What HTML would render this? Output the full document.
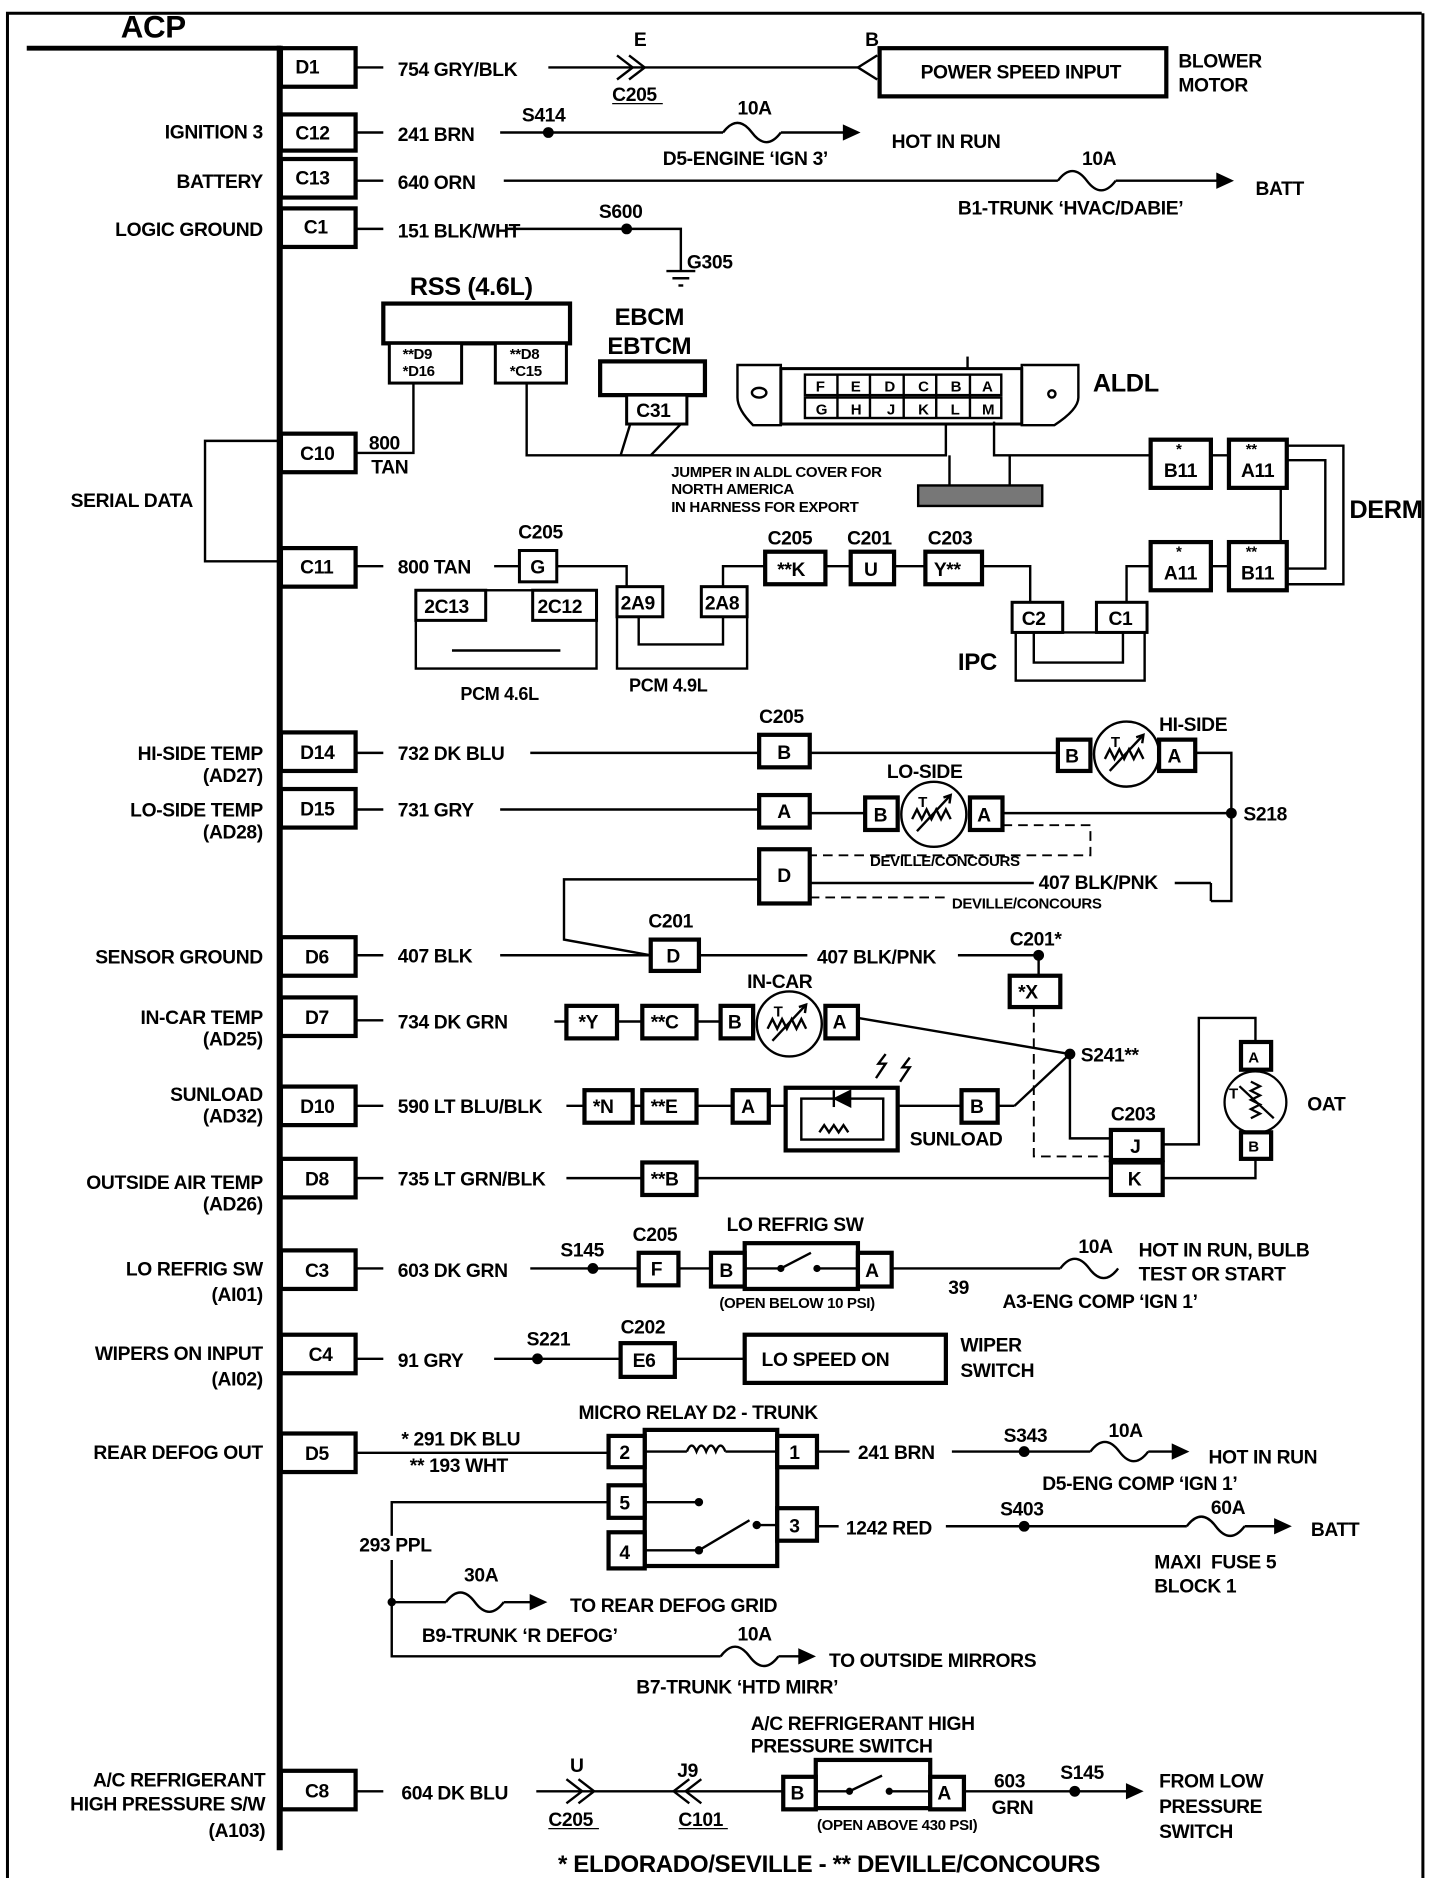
<!DOCTYPE html>
<html><head><meta charset="utf-8"><style>
html,body{margin:0;padding:0;background:#fff}
svg{display:block}
text{font-family:"Liberation Sans",sans-serif;font-size:16px;font-weight:bold;fill:#000;letter-spacing:-0.3px}
.s{font-size:12.5px}
.b{font-weight:bold}
.r{text-anchor:end}
.c{text-anchor:middle}
line,polyline,path,rect,circle,ellipse{stroke:#000;fill:none}
.w{stroke-width:2}
.bx{stroke-width:3.5;fill:#fff}
.bt{stroke-width:2.5;fill:#fff}
.d{stroke-dasharray:8 5;stroke-width:1.6}
circle.dot{fill:#000;stroke:#000}
</style></head><body>
<svg width="1440" height="1878" viewBox="0 0 1195 1559" xmlns="http://www.w3.org/2000/svg">
<polyline points="6,1559 6,11 1180,11" class="w" style="stroke-width:2.5"/>
<line x1="1181" y1="11" x2="1181" y2="1559" style="stroke-width:2.5"/>
<text x="100" y="31" class="b" style="font-size:26px">ACP</text>
<line x1="22" y1="40" x2="233" y2="40" style="stroke-width:4"/>
<line x1="232" y1="38" x2="232" y2="1536" style="stroke-width:5"/>

<g>
<rect x="233" y="40" width="62" height="32" class="bx"/><text x="245" y="61">D1</text>
<rect x="233" y="95" width="62" height="30" class="bx"/><text x="245" y="116">C12</text>
<rect x="233" y="132" width="62" height="32" class="bx"/><text x="245" y="153">C13</text>
<rect x="233" y="173" width="62" height="32" class="bx"/><text x="252" y="194">C1</text>
<rect x="233" y="360" width="62" height="32" class="bx"/><text x="249" y="382">C10</text>
<rect x="233" y="455" width="62" height="32" class="bx"/><text x="249" y="476">C11</text>
<rect x="233" y="608" width="62" height="32" class="bx"/><text x="249" y="630">D14</text>
<rect x="233" y="655" width="62" height="32" class="bx"/><text x="249" y="677">D15</text>
<rect x="233" y="778" width="62" height="32" class="bx"/><text x="253" y="800">D6</text>
<rect x="233" y="828" width="62" height="32" class="bx"/><text x="253" y="850">D7</text>
<rect x="233" y="902" width="62" height="32" class="bx"/><text x="249" y="924">D10</text>
<rect x="233" y="962" width="62" height="32" class="bx"/><text x="253" y="984">D8</text>
<rect x="233" y="1038" width="62" height="32" class="bx"/><text x="253" y="1060">C3</text>
<rect x="233" y="1108" width="62" height="32" class="bx"/><text x="256" y="1130">C4</text>
<rect x="233" y="1190" width="62" height="32" class="bx"/><text x="253" y="1212">D5</text>
<rect x="233" y="1470" width="62" height="32" class="bx"/><text x="253" y="1492">C8</text>
</g>

<g>
<text x="218" y="115" class="r">IGNITION 3</text>
<text x="218" y="156" class="r">BATTERY</text>
<text x="218" y="196" class="r">LOGIC GROUND</text>
<text x="160" y="421" class="r">SERIAL DATA</text>
<text x="218" y="631" class="r">HI-SIDE TEMP</text>
<text x="218" y="649" class="r">(AD27)</text>
<text x="218" y="678" class="r">LO-SIDE TEMP</text>
<text x="218" y="696" class="r">(AD28)</text>
<text x="218" y="800" class="r">SENSOR GROUND</text>
<text x="218" y="850" class="r">IN-CAR TEMP</text>
<text x="218" y="868" class="r">(AD25)</text>
<text x="218" y="914" class="r">SUNLOAD</text>
<text x="218" y="932" class="r">(AD32)</text>
<text x="218" y="987" class="r">OUTSIDE AIR TEMP</text>
<text x="218" y="1005" class="r">(AD26)</text>
<text x="218" y="1059" class="r">LO REFRIG SW</text>
<text x="218" y="1080" class="r">(AI01)</text>
<text x="218" y="1129" class="r">WIPERS ON INPUT</text>
<text x="218" y="1150" class="r">(AI02)</text>
<text x="218" y="1211" class="r">REAR DEFOG OUT</text>
<text x="220" y="1483" class="r">A/C REFRIGERANT</text>
<text x="220" y="1503" class="r">HIGH PRESSURE S/W</text>
<text x="220" y="1525" class="r">(A103)</text>
</g>

<g class="w">
<line x1="295" y1="56" x2="318" y2="56"/><line x1="295" y1="110" x2="318" y2="110"/>
<line x1="295" y1="150" x2="318" y2="150"/><line x1="295" y1="190" x2="318" y2="190"/>
<line x1="295" y1="470" x2="318" y2="470"/><line x1="295" y1="625" x2="318" y2="625"/>
<line x1="295" y1="672" x2="318" y2="672"/><line x1="295" y1="793" x2="318" y2="793"/>
<line x1="295" y1="847" x2="318" y2="847"/><line x1="295" y1="918" x2="318" y2="918"/>
<line x1="295" y1="978" x2="318" y2="978"/><line x1="295" y1="1053" x2="318" y2="1053"/>
<line x1="295" y1="1128" x2="318" y2="1128"/><line x1="295" y1="1487" x2="318" y2="1487"/>
</g>

<!-- D1 -->
<text x="330" y="63">754 GRY/BLK</text>
<line x1="455" y1="56" x2="712" y2="56" class="w"/>
<polyline points="512,46 525,56 512,66" class="w"/><polyline points="522,46 535,56 522,66" class="w"/>
<text x="526" y="38">E</text><text x="508" y="84">C205</text><line x1="508" y1="86" x2="550" y2="86"/>
<polyline points="728,46 712,56 728,66" class="w"/><text x="718" y="38">B</text>
<rect x="730" y="40" width="238" height="40" class="bx"/>
<text x="764" y="65">POWER SPEED INPUT</text>
<text x="978" y="56">BLOWER</text><text x="978" y="76">MOTOR</text>

<!-- C12 -->
<text x="330" y="117">241 BRN</text>
<line x1="415" y1="110" x2="600" y2="110" class="w"/><circle cx="455" cy="110" r="4" class="dot"/>
<text x="433" y="101">S414</text>
<path d="M600,110 q12,-16 24,0 q12,16 24,0" class="w"/><text x="612" y="95">10A</text>
<line x1="648" y1="110" x2="700" y2="110" class="w"/><polygon points="700,104 713,110 700,116" fill="#000" stroke="#000"/>
<text x="740" y="123">HOT IN RUN</text><text x="550" y="137">D5-ENGINE ‘IGN 3’</text>

<!-- C13 -->
<text x="330" y="157">640 ORN</text>
<line x1="418" y1="150" x2="878" y2="150" class="w"/>
<path d="M878,150 q12,-16 24,0 q12,16 24,0" class="w"/><text x="898" y="137">10A</text>
<line x1="926" y1="150" x2="1010" y2="150" class="w"/><polygon points="1010,144 1023,150 1010,156" fill="#000" stroke="#000"/>
<text x="1042" y="162">BATT</text><text x="795" y="178">B1-TRUNK ‘HVAC/DABIE’</text>

<!-- C1 -->
<text x="330" y="197">151 BLK/WHT</text>
<polyline points="420,190 565,190 565,225" class="w"/><circle cx="520" cy="190" r="4" class="dot"/>
<text x="497" y="181">S600</text><text x="570" y="223">G305</text>
<line x1="553" y1="225" x2="577" y2="225" class="w"/><line x1="558" y1="231" x2="572" y2="231" class="w"/><line x1="563" y1="237" x2="567" y2="237" class="w"/>

<!-- RSS -->
<text x="340" y="245" class="b" style="font-size:21px">RSS (4.6L)</text>
<rect x="318" y="252" width="155" height="33" class="bx"/>
<rect x="323" y="285" width="60" height="33" class="bt"/><text x="334" y="298" class="s">**D9</text><text x="334" y="312" class="s">*D16</text>
<rect x="411" y="285" width="59" height="33" class="bt"/><text x="423" y="298" class="s">**D8</text><text x="423" y="312" class="s">*C15</text>
<polyline points="295,376 343,376 343,318" class="w"/>
<text x="306" y="373">800</text><text x="308" y="393">TAN</text>
<polyline points="437,318 437,378 785,378 785,350" class="w"/>
<text x="510" y="270" class="b" style="font-size:20px">EBCM</text>
<text x="504" y="294" class="b" style="font-size:20px">EBTCM</text>
<rect x="498" y="300" width="87" height="28" class="bx"/>
<rect x="520" y="328" width="50" height="24" class="bt"/><text x="528" y="346">C31</text>
<polyline points="523,352 515,378" class="w"/><polyline points="565,352 540,378" class="w"/>

<!-- ALDL -->
<path d="M612,303 L648,303 L648,353 L625,353 Q612,340 612,330 Z" class="w"/>
<path d="M895,303 L848,303 L848,353 L875,353 Q895,340 895,330 Z" class="w"/>
<ellipse cx="630" cy="326" rx="6" ry="4" class="w"/><circle cx="873" cy="327" r="3" class="w"/>
<rect x="648" y="306" width="200" height="46" class="bt"/>
<line x1="803" y1="296" x2="803" y2="306" class="w"/>
<rect x="668" y="311" width="163" height="17" class="w"/><rect x="668" y="330" width="163" height="17" class="w"/>
<g><text x="677" y="325" class="s">F</text><text x="706" y="325" class="s">E</text><text x="734" y="325" class="s">D</text><text x="762" y="325" class="s">C</text><text x="789" y="325" class="s">B</text><text x="815" y="325" class="s">A</text>
<text x="677" y="344" class="s">G</text><text x="706" y="344" class="s">H</text><text x="736" y="344" class="s">J</text><text x="762" y="344" class="s">K</text><text x="789" y="344" class="s">L</text><text x="815" y="344" class="s">M</text></g>
<g class="w"><line x1="695" y1="311" x2="695" y2="347"/><line x1="722" y1="311" x2="722" y2="347"/><line x1="750" y1="311" x2="750" y2="347"/><line x1="777" y1="311" x2="777" y2="347"/><line x1="805" y1="311" x2="805" y2="347"/></g>
<text x="907" y="325" class="b" style="font-size:21px">ALDL</text>
<polyline points="825,350 825,378 955,378" class="w"/>
<line x1="788" y1="378" x2="788" y2="403" class="w"/><line x1="838" y1="378" x2="838" y2="403" class="w"/>
<rect x="762" y="403" width="103" height="17" style="fill:#777;stroke:#000;stroke-width:2"/>
<text x="557" y="396" class="s">JUMPER IN ALDL COVER FOR</text>
<text x="557" y="410" class="s">NORTH AMERICA</text>
<text x="557" y="425" class="s">IN HARNESS FOR EXPORT</text>

<!-- DERM -->
<rect x="955" y="365" width="50" height="40" class="bx"/><text x="976" y="377" class="s">*</text><text x="966" y="396">B11</text>
<rect x="1020" y="365" width="48" height="40" class="bx"/><text x="1034" y="377" class="s">**</text><text x="1030" y="396">A11</text>
<rect x="955" y="450" width="50" height="40" class="bx"/><text x="976" y="462" class="s">*</text><text x="966" y="481">A11</text>
<rect x="1020" y="450" width="48" height="40" class="bx"/><text x="1034" y="462" class="s">**</text><text x="1030" y="481">B11</text>
<line x1="1005" y1="378" x2="1020" y2="378" class="w"/><line x1="1005" y1="470" x2="1020" y2="470" class="w"/>
<polyline points="1068,370 1115,370 1115,485 1068,485" class="w"/>
<polyline points="1068,382 1100,382 1100,472 1068,472" class="w"/>
<line x1="1063" y1="405" x2="1063" y2="450" class="w"/>
<text x="1120" y="430" class="b" style="font-size:21px">DERM</text>

<polyline points="233,366 170,366 170,466 233,466" class="w"/>

<!-- C11 row -->
<text x="330" y="476">800 TAN</text>
<line x1="410" y1="470" x2="430" y2="470" class="w"/>
<text x="430" y="447">C205</text>
<rect x="431" y="457" width="31" height="26" class="bt"/><text x="440" y="476">G</text>
<polyline points="462,470 520,470 520,487" class="w"/>
<rect x="345" y="490" width="150" height="65" class="w"/>
<rect x="345" y="490" width="58" height="25" class="bt"/><text x="352" y="509">2C13</text>
<rect x="442" y="490" width="53" height="25" class="bt"/><text x="446" y="509">2C12</text>
<line x1="375" y1="540" x2="465" y2="540" class="w"/>
<text x="382" y="581" class="b" style="font-size:15px">PCM 4.6L</text>
<polyline points="512,510 512,555 620,555 620,510" class="w"/>
<rect x="512" y="487" width="38" height="25" class="bt"/><text x="515" y="506">2A9</text>
<rect x="582" y="487" width="38" height="25" class="bt"/><text x="585" y="506">2A8</text>
<polyline points="530,512 530,535 600,535 600,512" class="w"/>
<text x="522" y="574" class="b" style="font-size:15px">PCM 4.9L</text>
<polyline points="600,487 600,470 635,470" class="w"/>
<text x="637" y="452">C205</text><rect x="635" y="458" width="50" height="27" class="bx"/><text x="645" y="478">**K</text>
<line x1="685" y1="470" x2="706" y2="470" class="w"/>
<text x="703" y="452">C201</text><rect x="706" y="458" width="36" height="27" class="bx"/><text x="717" y="478">U</text>
<line x1="742" y1="470" x2="768" y2="470" class="w"/>
<text x="770" y="452">C203</text><rect x="768" y="458" width="47" height="27" class="bx"/><text x="775" y="478">Y**</text>
<polyline points="815,470 855,470 855,500" class="w"/>
<rect x="843" y="525" width="107" height="40" class="w"/>
<polyline points="858,525 858,550 932,550 932,525" class="w"/>
<rect x="840" y="500" width="42" height="25" class="bt"/><text x="848" y="519">C2</text>
<rect x="910" y="500" width="42" height="25" class="bt"/><text x="920" y="519">C1</text>
<polyline points="935,500 935,470 955,470" class="w"/>
<text x="795" y="556" class="b" style="font-size:20px">IPC</text>

<defs>
<g id="th">
<circle cx="0" cy="0" r="27" class="w" style="fill:#fff"/>
<path d="M-18,4 l4,-8 l4,8 l4,-8 l4,8 l4,-8 l4,8 l4,-8 l4,8" class="w"/>
<line x1="-14" y1="14" x2="14" y2="-16" class="w"/>
<polyline points="8,-14 14,-16 13,-9" class="w"/>
<text x="-13" y="-6" class="s">T</text>
</g>
</defs>

<!-- HI-SIDE -->
<text x="330" y="631">732 DK BLU</text>
<line x1="440" y1="625" x2="630" y2="625" class="w"/>
<text x="630" y="600">C205</text><rect x="630" y="610" width="42" height="27" class="bx"/><text x="645" y="630">B</text>
<line x1="672" y1="625" x2="878" y2="625" class="w"/>
<rect x="878" y="614" width="27" height="26" class="bx"/><text x="884" y="633">B</text>
<use href="#th" x="935" y="626"/>
<rect x="962" y="614" width="30" height="26" class="bx"/><text x="969" y="633">A</text>
<text x="962" y="607">HI-SIDE</text>
<polyline points="992,625 1022,625 1022,748 1005,748" class="w"/>
<circle cx="1022" cy="675" r="4" class="dot"/><text x="1032" y="681">S218</text>

<!-- LO-SIDE -->
<text x="330" y="678">731 GRY</text>
<line x1="415" y1="672" x2="630" y2="672" class="w"/>
<rect x="630" y="660" width="42" height="27" class="bx"/><text x="645" y="679">A</text>
<line x1="672" y1="675" x2="718" y2="675" class="w"/>
<rect x="718" y="662" width="27" height="27" class="bx"/><text x="725" y="682">B</text>
<use href="#th" x="775" y="676"/>
<rect x="805" y="662" width="27" height="27" class="bx"/><text x="811" y="682">A</text>
<text x="736" y="646">LO-SIDE</text>
<line x1="832" y1="675" x2="1022" y2="675" class="w"/>
<polyline points="832,685 905,685 905,710 672,710" class="d"/>
<text x="722" y="719" class="s">DEVILLE/CONCOURS</text>
<rect x="630" y="705" width="42" height="45" class="bx"/><text x="645" y="732">D</text>
<line x1="672" y1="733" x2="858" y2="733" class="w"/>
<line x1="975" y1="733" x2="1005" y2="733" class="w"/>
<line x1="1005" y1="733" x2="1005" y2="748" class="w"/>
<line x1="672" y1="745" x2="785" y2="745" class="d"/>
<text x="862" y="738">407 BLK/PNK</text>
<text x="790" y="754" class="s">DEVILLE/CONCOURS</text>
<polyline points="630,730 468,730 468,780 540,793" class="w"/>

<!-- sensor ground -->
<text x="330" y="799">407 BLK</text>
<line x1="415" y1="793" x2="540" y2="793" class="w"/>
<text x="538" y="770">C201</text><rect x="540" y="780" width="40" height="26" class="bx"/><text x="553" y="799">D</text>
<line x1="580" y1="793" x2="670" y2="793" class="w"/>
<line x1="795" y1="793" x2="862" y2="793" class="w"/>
<text x="678" y="800">407 BLK/PNK</text>
<circle cx="862" cy="793" r="4" class="dot"/><text x="838" y="785">C201*</text>
<line x1="862" y1="793" x2="862" y2="810" class="w"/>
<rect x="838" y="810" width="42" height="26" class="bx"/><text x="845" y="829">*X</text>
<polyline points="858,836 858,960 922,960" class="d"/>

<!-- IN-CAR -->
<text x="330" y="854">734 DK GRN</text>
<line x1="460" y1="848" x2="470" y2="848" class="w"/>
<rect x="470" y="835" width="42" height="27" class="bx"/><text x="480" y="854">*Y</text>
<line x1="512" y1="848" x2="533" y2="848" class="w"/>
<rect x="533" y="835" width="45" height="27" class="bx"/><text x="540" y="854">**C</text>
<line x1="578" y1="848" x2="598" y2="848" class="w"/>
<rect x="598" y="835" width="27" height="27" class="bx"/><text x="604" y="854">B</text>
<use href="#th" x="655" y="850"/>
<rect x="685" y="835" width="27" height="27" class="bx"/><text x="691" y="854">A</text>
<text x="620" y="820">IN-CAR</text>
<line x1="712" y1="845" x2="888" y2="875" class="w"/>
<circle cx="888" cy="875" r="4" class="dot"/><text x="897" y="881">S241**</text>
<polyline points="888,875 888,945 922,945" class="w"/>
<line x1="842" y1="918" x2="888" y2="875" class="w"/>

<!-- SUNLOAD -->
<text x="330" y="924">590 LT BLU/BLK</text>
<line x1="470" y1="918" x2="485" y2="918" class="w"/>
<rect x="485" y="905" width="40" height="27" class="bx"/><text x="492" y="924">*N</text>
<line x1="525" y1="918" x2="533" y2="918" class="w"/>
<rect x="533" y="905" width="45" height="27" class="bx"/><text x="540" y="924">**E</text>
<line x1="578" y1="918" x2="608" y2="918" class="w"/>
<rect x="608" y="905" width="30" height="27" class="bx"/><text x="615" y="924">A</text>
<line x1="638" y1="918" x2="652" y2="918" class="w"/>
<rect x="652" y="903" width="93" height="52" class="bx"/>
<rect x="665" y="912" width="68" height="34" class="w"/>
<polygon points="692,912 706,905 706,919" fill="#000" stroke="#000"/><line x1="692" y1="905" x2="692" y2="919" class="w"/>
<path d="M680,940 l4,-6 l4,6 l4,-6 l4,6 l4,-6 l4,6" class="w"/>
<path d="M735,875 l-6,8 l6,0 l-8,12" class="w"/><path d="M755,878 l-6,8 l6,0 l-8,12" class="w"/>
<line x1="745" y1="918" x2="798" y2="918" class="w"/>
<rect x="798" y="905" width="30" height="27" class="bx"/><text x="805" y="924">B</text>
<line x1="828" y1="918" x2="842" y2="918" class="w"/>
<text x="755" y="951">SUNLOAD</text>

<!-- D8 -->
<text x="330" y="984">735 LT GRN/BLK</text>
<line x1="470" y1="978" x2="533" y2="978" class="w"/>
<rect x="533" y="965" width="45" height="27" class="bx"/><text x="540" y="984">**B</text>
<line x1="578" y1="978" x2="922" y2="978" class="w"/>
<text x="922" y="930">C203</text>
<rect x="922" y="938" width="43" height="25" class="bx"/><text x="938" y="957">J</text>
<rect x="922" y="965" width="43" height="27" class="bx"/><text x="936" y="984">K</text>
<polyline points="965,950 995,950 995,845 1042,845 1042,865" class="w"/>
<polyline points="965,978 1042,978 1042,962" class="w"/>
<rect x="1030" y="865" width="25" height="23" class="bx"/><text x="1036" y="882" class="s">A</text>
<g transform="translate(1042,915) rotate(90) scale(0.95)"><circle cx="0" cy="0" r="27" class="w" style="fill:#fff"/><path d="M-18,4 l4,-8 l4,8 l4,-8 l4,8 l4,-8 l4,8 l4,-8 l4,8" class="w"/><line x1="-14" y1="14" x2="14" y2="-16" class="w"/></g>
<text x="1020" y="912" class="s">T</text>
<rect x="1030" y="940" width="25" height="22" class="bx"/><text x="1036" y="956" class="s">B</text>
<text x="1085" y="922">OAT</text>

<!-- C3 -->
<text x="330" y="1060">603 DK GRN</text>
<line x1="440" y1="1053" x2="530" y2="1053" class="w"/><circle cx="492" cy="1053" r="4" class="dot"/>
<text x="465" y="1043">S145</text>
<text x="525" y="1030">C205</text><rect x="530" y="1040" width="33" height="27" class="bx"/><text x="540" y="1059">F</text>
<line x1="563" y1="1053" x2="590" y2="1053" class="w"/>
<text x="603" y="1022">LO REFRIG SW</text>
<rect x="618" y="1032" width="94" height="38" class="bx"/>
<rect x="590" y="1040" width="28" height="28" class="bx"/><text x="597" y="1060">B</text>
<rect x="712" y="1040" width="28" height="28" class="bx"/><text x="718" y="1060">A</text>
<polyline points="618,1053 648,1053 673,1040" class="w"/><circle cx="648" cy="1053" r="2.5" class="dot"/><polyline points="678,1053 712,1053" class="w"/><circle cx="678" cy="1053" r="2.5" class="dot"/>
<text x="597" y="1086" class="s">(OPEN BELOW 10 PSI)</text>
<line x1="740" y1="1053" x2="880" y2="1053" class="w"/>
<path d="M880,1053 q12,-16 24,0 q12,16 24,0" class="w"/><text x="895" y="1040">10A</text>
<text x="945" y="1043">HOT IN RUN, BULB</text><text x="945" y="1063">TEST OR START</text>
<text x="787" y="1074">39</text><text x="832" y="1086">A3-ENG COMP ‘IGN 1’</text>

<!-- C4 -->
<text x="330" y="1135">91 GRY</text>
<line x1="410" y1="1128" x2="515" y2="1128" class="w"/><circle cx="446" cy="1128" r="4" class="dot"/>
<text x="437" y="1117">S221</text>
<text x="515" y="1107">C202</text><rect x="515" y="1115" width="45" height="28" class="bx"/><text x="525" y="1135">E6</text>
<line x1="560" y1="1128" x2="618" y2="1128" class="w"/>
<rect x="618" y="1108" width="167" height="40" class="bx"/><text x="632" y="1134">LO SPEED ON</text>
<text x="797" y="1122">WIPER</text><text x="797" y="1143">SWITCH</text>

<!-- D5 relay -->
<text x="333" y="1200">* 291 DK BLU</text>
<text x="340" y="1222">** 193 WHT</text>
<line x1="295" y1="1206" x2="505" y2="1206" class="w"/>
<text x="480" y="1178">MICRO RELAY D2 - TRUNK</text>
<rect x="535" y="1187" width="110" height="113" class="bx"/>
<rect x="505" y="1192" width="30" height="26" class="bx"/><text x="514" y="1211">2</text>
<rect x="505" y="1233" width="30" height="27" class="bx"/><text x="514" y="1253">5</text>
<rect x="505" y="1272" width="30" height="30" class="bx"/><text x="514" y="1294">4</text>
<rect x="645" y="1192" width="33" height="26" class="bx"/><text x="655" y="1211">1</text>
<rect x="645" y="1252" width="33" height="27" class="bx"/><text x="655" y="1272">3</text>
<polyline points="535,1205 570,1205" class="w"/><path d="M570,1205 q4,-10 8,0 q4,-10 8,0 q4,-10 8,0 q4,-10 8,0" class="w"/><line x1="602" y1="1205" x2="645" y2="1205" class="w"/>
<polyline points="535,1247 580,1247" class="w"/><circle cx="580" cy="1247" r="3" class="dot"/>
<polyline points="535,1287 580,1287 622,1262" class="w"/><circle cx="580" cy="1287" r="3" class="dot"/>
<line x1="628" y1="1266" x2="645" y2="1266" class="w"/><circle cx="628" cy="1266" r="3" class="dot"/>
<line x1="678" y1="1205" x2="705" y2="1205" class="w"/><line x1="790" y1="1205" x2="905" y2="1205" class="w"/><text x="712" y="1211">241 BRN</text>
<circle cx="850" cy="1205" r="4" class="dot"/><text x="833" y="1197">S343</text>
<path d="M905,1205 q12,-16 24,0 q12,16 24,0" class="w"/><text x="920" y="1193">10A</text>
<line x1="953" y1="1205" x2="973" y2="1205" class="w"/><polygon points="973,1199 986,1205 973,1211" fill="#000" stroke="#000"/>
<text x="1003" y="1215">HOT IN RUN</text><text x="865" y="1237">D5-ENG COMP ‘IGN 1’</text>
<line x1="678" y1="1267" x2="696" y2="1267" class="w"/><line x1="785" y1="1267" x2="985" y2="1267" class="w"/><text x="702" y="1274">1242 RED</text>
<circle cx="850" cy="1267" r="4" class="dot"/><text x="830" y="1258">S403</text>
<path d="M985,1267 q12,-16 24,0 q12,16 24,0" class="w"/><text x="1005" y="1257">60A</text>
<line x1="1033" y1="1267" x2="1058" y2="1267" class="w"/><polygon points="1058,1261 1071,1267 1058,1273" fill="#000" stroke="#000"/>
<text x="1088" y="1275">BATT</text><text x="958" y="1302">MAXI&#160; FUSE 5</text><text x="958" y="1322">BLOCK 1</text>
<polyline points="505,1247 325,1247 325,1275" class="w"/>
<polyline points="325,1295 325,1375 598,1375" class="w"/>
<text x="298" y="1288">293 PPL</text>
<line x1="325" y1="1330" x2="370" y2="1330" class="w"/><circle cx="325" cy="1330" r="3" class="dot"/>
<path d="M370,1330 q12,-16 24,0 q12,16 24,0" class="w"/><text x="385" y="1313">30A</text>
<line x1="418" y1="1330" x2="440" y2="1330" class="w"/><polygon points="440,1324 453,1330 440,1336" fill="#000" stroke="#000"/>
<text x="473" y="1338">TO REAR DEFOG GRID</text><text x="350" y="1363">B9-TRUNK ‘R DEFOG’</text>
<path d="M598,1375 q12,-16 24,0 q12,16 24,0" class="w"/><text x="612" y="1362">10A</text>
<line x1="646" y1="1375" x2="663" y2="1375" class="w"/><polygon points="663,1369 676,1375 663,1381" fill="#000" stroke="#000"/>
<text x="688" y="1384">TO OUTSIDE MIRRORS</text><text x="528" y="1406">B7-TRUNK ‘HTD MIRR’</text>

<!-- C8 -->
<text x="333" y="1494">604 DK BLU</text>
<line x1="445" y1="1487" x2="650" y2="1487" class="w"/>
<polyline points="470,1477 483,1487 470,1497" class="w"/><polyline points="480,1477 493,1487 480,1497" class="w"/>
<text x="473" y="1471">U</text><text x="455" y="1516">C205</text><line x1="455" y1="1518" x2="497" y2="1518"/>
<polyline points="572,1477 559,1487 572,1497" class="w"/><polyline points="582,1477 569,1487 582,1497" class="w"/>
<text x="562" y="1475">J9</text><text x="563" y="1516">C101</text><line x1="563" y1="1518" x2="604" y2="1518"/>
<text x="623" y="1436">A/C REFRIGERANT HIGH</text><text x="623" y="1455">PRESSURE SWITCH</text>
<rect x="677" y="1461" width="95" height="40" class="bx"/>
<rect x="650" y="1475" width="27" height="27" class="bx"/><text x="656" y="1494">B</text>
<rect x="772" y="1475" width="28" height="27" class="bx"/><text x="778" y="1494">A</text>
<polyline points="677,1487 705,1487 732,1474" class="w"/><circle cx="705" cy="1487" r="2.5" class="dot"/><polyline points="738,1487 772,1487" class="w"/><circle cx="738" cy="1487" r="2.5" class="dot"/>
<text x="678" y="1519" class="s">(OPEN ABOVE 430 PSI)</text>
<line x1="800" y1="1487" x2="935" y2="1487" class="w"/><polygon points="935,1481 948,1487 935,1493" fill="#000" stroke="#000"/>
<text x="825" y="1484">603</text><text x="823" y="1506">GRN</text>
<circle cx="892" cy="1487" r="4" class="dot"/><text x="880" y="1477">S145</text>
<text x="962" y="1484">FROM LOW</text><text x="962" y="1505">PRESSURE</text><text x="962" y="1526">SWITCH</text>
<text x="688" y="1554" class="c b" style="font-size:20px">* ELDORADO/SEVILLE - ** DEVILLE/CONCOURS</text>
</svg>
</body></html>
